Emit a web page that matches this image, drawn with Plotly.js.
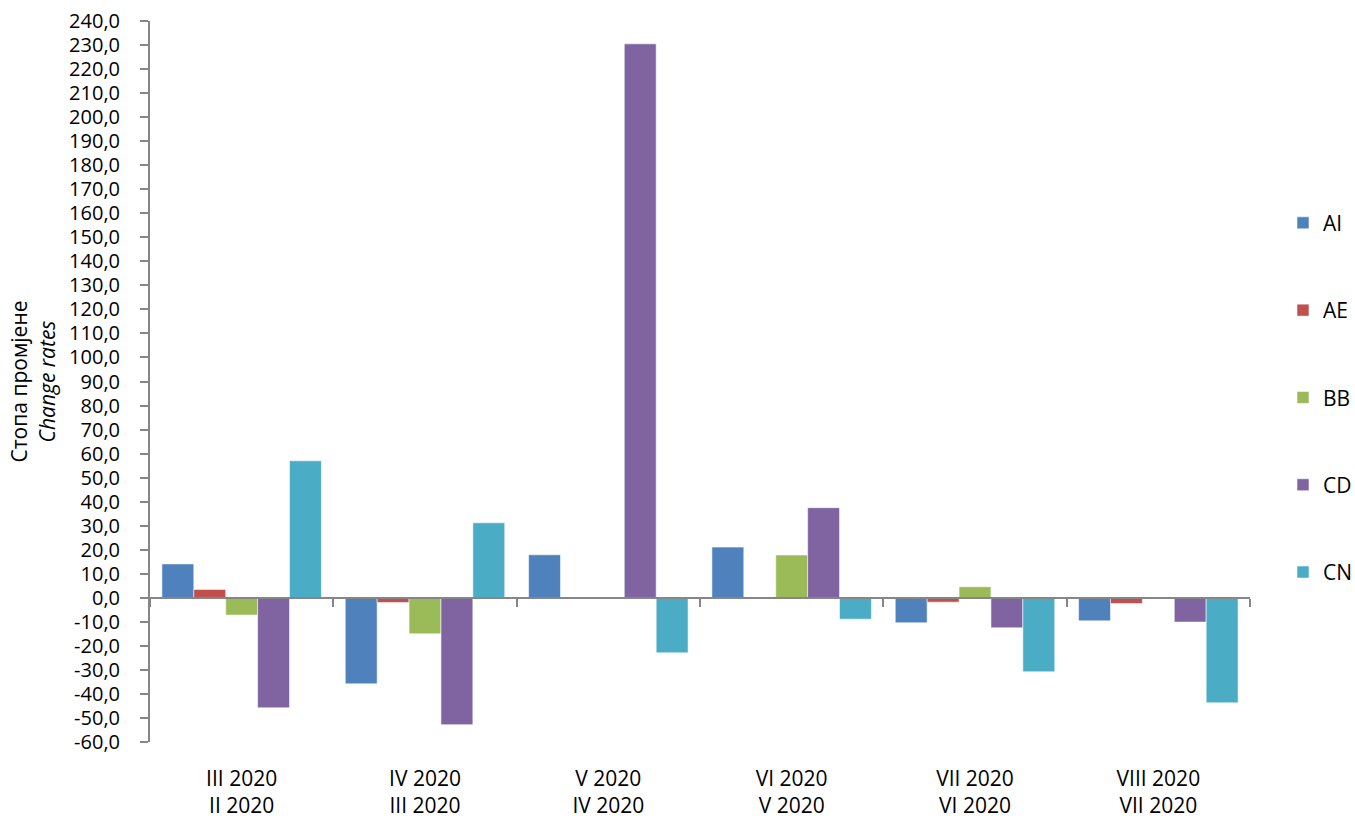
<!DOCTYPE html>
<html>
<head>
<meta charset="utf-8">
<script src="https://cdn.plot.ly/plotly-3.0.1.min.js"></script>
<style>html,body{margin:0;padding:0;background:#fff;}#chart{width:1355px;height:819px;}</style>
</head>
<body>
<div id="chart"></div>
<script>
const categories = ["III 2020<br>II 2020", "IV 2020<br>III 2020", "V 2020<br>IV 2020", "VI 2020<br>V 2020", "VII 2020<br>VI 2020", "VIII 2020<br>VII 2020"];
const seriesNames = ["AI", "AE", "BB", "CD", "CN"];
const AI = [14.1, -35.8, 17.9, 21.1, -10.4, -9.6];
const AE = [3.5, -2.0, 0.0, 0.0, -1.8, -2.4];
const BB = [-7.2, -15.0, -0.4, 17.8, 4.6, -0.3];
const CD = [-45.8, -52.8, 230.5, 37.5, -12.5, -10.1];
const CN = [57.0, 31.2, -22.9, -8.9, -30.8, -43.7];
const colors = ["#4F81BD", "#C0504D", "#9BBB59", "#8064A2", "#4BACC6"];
const yTickVals = [];
for (let v = -60; v <= 240; v += 10) yTickVals.push(v);
const yTickText = yTickVals.map(v => v.toFixed(1).replace('.', ','));
const boundaries = [-0.5, 0.5, 1.5, 2.5, 3.5, 4.5, 5.5];

const font = "'Open Sans', 'Noto Sans', sans-serif";
const allSeries = [AI, AE, BB, CD, CN];
const traces = allSeries.map((vals, i) => ({
  type: 'bar',
  name: seriesNames[i],
  x: [0,1,2,3,4,5],
  y: vals,
  legendgroup: seriesNames[i],
  marker: {color: colors[i], line: {color: 'rgba(255,255,255,0.55)', width: 1}},
  hoverinfo: 'x+y+name'
}));

const layout = {
  width: 1355, height: 819,
  paper_bgcolor: '#fff', plot_bgcolor: '#fff',
  font: {family: font, size: 20, color: '#000'},
  margin: {l: 150, r: 105, t: 21, b: 77, autoexpand: false},
  barmode: 'group',
  bargap: 0.13,
  bargroupgap: 0,
  showlegend: true,
  legend: {
    x: 1.03, xanchor: 'left', y: 0.748, yanchor: 'top',
    traceorder: 'grouped', tracegroupgap: 57,
    font: {family: font, size: 21, color: '#000'},
    itemwidth: 30
  },
  xaxis: {
    range: [-0.5, 5.5],
    tickvals: [0,1,2,3,4,5],
    ticktext: categories,
    showline: false, showgrid: false, zeroline: false,
    ticks: '',
    ticklabelstandoff: 22,
    tickfont: {family: font, size: 21, color: '#000'}
  },
  xaxis2: {
    overlaying: 'x', anchor: 'free', position: 0.2,
    range: [-0.5, 5.5],
    tickvals: boundaries,
    showticklabels: false,
    ticks: 'outside', ticklen: 8, tickwidth: 2, tickcolor: '#868686',
    showline: true, linecolor: '#868686', linewidth: 2,
    showgrid: false, zeroline: false
  },
  yaxis: {
    range: [-60, 240],
    tickvals: yTickVals,
    ticktext: yTickText,
    ticks: 'outside', ticklen: 8, tickwidth: 2, tickcolor: '#868686',
    showline: true, linecolor: '#868686', linewidth: 2,
    showgrid: false, zeroline: false,
    ticklabelstandoff: 16,
    tickfont: {family: font, size: 20, color: '#000'},
    title: {text: 'Стопа промјене<br><i>Change rates</i>', standoff: 8, font: {family: font, size: 21, color: '#000'}}
  }
};

traces.push({type: 'scatter', x: [0], y: [0], xaxis: 'x2', mode: 'markers', marker: {opacity: 0}, showlegend: false, hoverinfo: 'skip'});

Plotly.newPlot('chart', traces, layout, {displayModeBar: false, staticPlot: true});
</script>
</body>
</html>
